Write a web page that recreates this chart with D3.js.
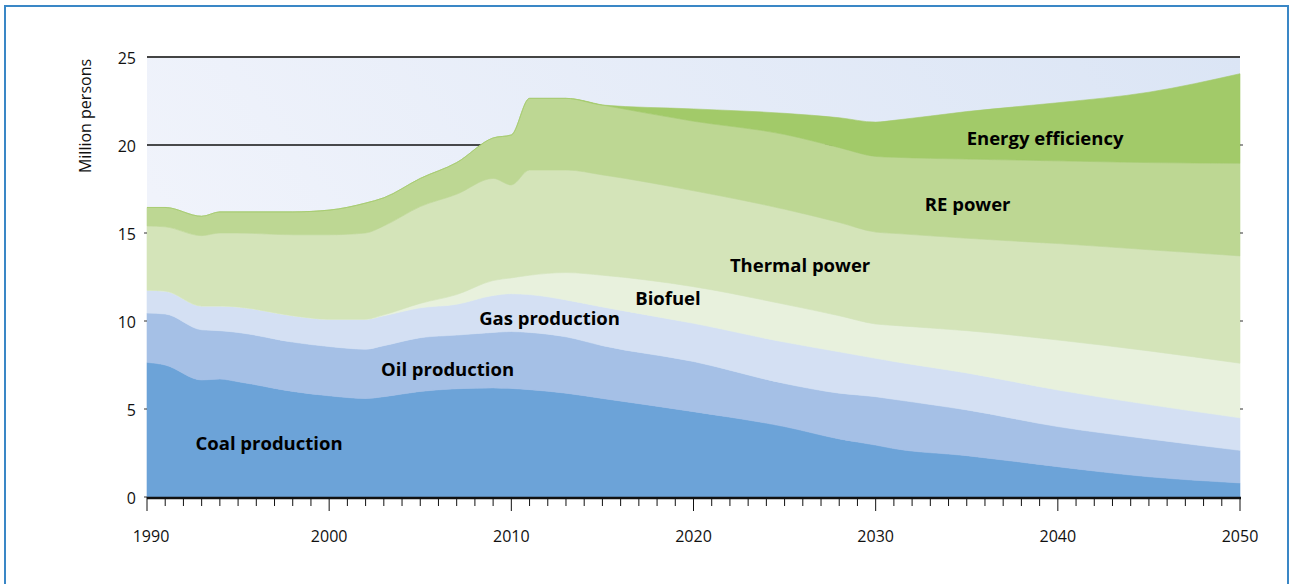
<!DOCTYPE html>
<html>
<head>
<meta charset="utf-8">
<script src="https://cdn.jsdelivr.net/npm/d3@7"></script>
<style>
  html, body { margin: 0; padding: 0; background: #ffffff; }
  svg { display: block; }
  text { font-family: "Open Sans", "Noto Sans", sans-serif; fill: #111; }
</style>
</head>
<body>
<svg id="chart" width="1290" height="584"></svg>
<script>
// Employment in the energy sector, million persons, stacked by source
const years   = [1990, 1991, 1993, 1994, 1995, 1998, 2000, 2002, 2003, 2005, 2007, 2009, 2010, 2011, 2013, 2015, 2020, 2025, 2028, 2030, 2031, 2035, 2040, 2045, 2050];
const coal    = [7.65, 7.5, 6.65, 6.7, 6.55, 6.0, 5.75, 5.6, 5.7, 6.0, 6.15, 6.2, 6.17, 6.1, 5.9, 5.6, 4.85, 4.0, 3.3, 2.95, 2.75, 2.35, 1.72, 1.15, 0.8];
const oil     = [2.8, 2.9, 2.85, 2.75, 2.8, 2.8, 2.8, 2.8, 2.9, 3.05, 3.05, 3.15, 3.23, 3.25, 3.2, 3.0, 2.85, 2.45, 2.6, 2.75, 2.8, 2.6, 2.28, 2.15, 1.85];
const gas     = [1.3, 1.3, 1.35, 1.4, 1.45, 1.5, 1.55, 1.7, 1.7, 1.7, 1.75, 2.1, 2.15, 2.15, 2.1, 2.2, 2.17, 2.35, 2.35, 2.18, 2.15, 2.1, 2.08, 1.95, 1.85];
const biofuel = [0, 0, 0, 0, 0, 0, 0, 0, 0.05, 0.25, 0.55, 0.85, 0.9, 1.1, 1.55, 1.8, 2.08, 2.15, 2.05, 1.95, 2.05, 2.4, 2.84, 3.05, 3.1];
const thermal = [3.65, 3.65, 4.0, 4.15, 4.2, 4.6, 4.8, 4.9, 5.05, 5.5, 5.7, 5.8, 5.28, 5.98, 5.83, 5.7, 5.45, 5.4, 5.3, 5.22, 5.23, 5.25, 5.48, 5.75, 6.1];
const rePower = [1.05, 1.1, 1.1, 1.2, 1.2, 1.3, 1.4, 1.7, 1.6, 1.6, 1.8, 2.3, 2.84, 4.07, 4.07, 3.97, 3.95, 4.25, 4.25, 4.3, 4.32, 4.5, 4.7, 4.95, 5.26];
const effic   = [0, 0, 0, 0, 0, 0, 0, 0, 0, 0, 0, 0, 0, 0, 0, 0, 0.7, 1.2, 1.7, 1.95, 2.1, 2.7, 3.3, 4.0, 5.09];

const seriesNames  = ["Coal production", "Oil production", "Gas production", "Biofuel", "Thermal power", "RE power", "Energy efficiency"];
const seriesValues = [coal, oil, gas, biofuel, thermal, rePower, effic];
const seriesColors = ["#6ca3d8", "#a5c0e6", "#d4e0f3", "#e8f1dd", "#d4e4b9", "#bdd793", "#a2ca69"];

// Label anchor points in data space (year at text centre, value at baseline)
const labelYears  = [1996.7, 2006.5, 2012.1, 2018.6, 2025.85, 2035.05, 2039.3];
const labelValues = [2.67, 6.9, 9.77, 10.9, 12.8, 16.25, 20.0];

const yTicks = [0, 5, 10, 15, 20, 25];
const xMajor = [1990, 2000, 2010, 2020, 2030, 2040, 2050];

const svg = d3.select("#chart");
const m = { left: 147, right: 1240, top: 57, bottom: 497 };

const x = d3.scaleLinear().domain([1990, 2050]).range([m.left, m.right]);
const y = d3.scaleLinear().domain([0, 25]).range([m.bottom, m.top]);

// Outer frame
svg.append("rect")
  .attr("x", 5).attr("y", 6).attr("width", 1283).attr("height", 600)
  .attr("fill", "#ffffff").attr("stroke", "#3a87c6").attr("stroke-width", 2);

// Plot background gradient
const defs = svg.append("defs");
const grad = defs.append("linearGradient").attr("id", "bg")
  .attr("x1", "0").attr("y1", "0.3").attr("x2", "1").attr("y2", "0");
grad.append("stop").attr("offset", "0").attr("stop-color", "#f0f3fb");
grad.append("stop").attr("offset", "1").attr("stop-color", "#dbe5f5");

svg.append("rect")
  .attr("x", m.left).attr("y", m.top)
  .attr("width", m.right - m.left).attr("height", m.bottom - m.top)
  .attr("fill", "url(#bg)");

// Horizontal reference lines at 20 and 25
svg.append("line")
  .attr("x1", m.left).attr("x2", m.right)
  .attr("y1", y(20)).attr("y2", y(20))
  .attr("stroke", "#111").attr("stroke-width", 1.3);
svg.append("line")
  .attr("x1", m.left).attr("x2", m.right)
  .attr("y1", y(25)).attr("y2", y(25))
  .attr("stroke", "#444").attr("stroke-width", 2);

// Stacked areas
const table = years.map((yr, i) => {
  const row = { year: yr };
  seriesNames.forEach((n, k) => { row[n] = seriesValues[k][i]; });
  return row;
});
const stacked = d3.stack().keys(seriesNames)(table);

const area = d3.area()
  .x(d => x(d.data.year))
  .y0(d => y(d[0]))
  .y1(d => y(d[1]))
  .curve(d3.curveMonotoneX);

svg.append("g").selectAll("path")
  .data(stacked)
  .join("path")
  .attr("d", area)
  .attr("fill", (d, i) => seriesColors[i])
  .attr("stroke", (d, i) => seriesColors[i])
  .attr("stroke-width", 0.6);

// Y axis ticks and labels (left)
const yAxis = svg.append("g");
yAxis.selectAll("line")
  .data(yTicks.filter(t => t !== 20 && t !== 25))
  .join("line")
  .attr("x1", m.left - 3).attr("x2", m.left)
  .attr("y1", d => y(d)).attr("y2", d => y(d))
  .attr("stroke", "#333").attr("stroke-width", 1);
yAxis.selectAll("text")
  .data(yTicks)
  .join("text")
  .attr("x", 136)
  .attr("y", d => y(d) + 3)
  .attr("text-anchor", "end")
  .attr("dominant-baseline", "middle")
  .style("font-size", "16px")
  .text(d => d);

// Small ticks on right edge
svg.append("g").selectAll("line")
  .data([5, 10, 15, 20])
  .join("line")
  .attr("x1", m.right).attr("x2", m.right + 3)
  .attr("y1", d => y(d)).attr("y2", d => y(d))
  .attr("stroke", "#333").attr("stroke-width", 1);

// Y axis title
svg.append("text")
  .attr("transform", "translate(91, 116) rotate(-90)")
  .attr("text-anchor", "middle")
  .style("font-size", "16px")
  .text("Million persons");

// X axis: yearly minor ticks, decade major ticks
const xAxis = svg.append("g");
xAxis.selectAll("line.minor")
  .data(d3.range(1990, 2051))
  .join("line")
  .attr("class", "minor")
  .attr("x1", d => x(d)).attr("x2", d => x(d))
  .attr("y1", m.bottom)
  .attr("y2", d => m.bottom + (d % 10 === 0 ? 14 : 9))
  .attr("stroke", "#111").attr("stroke-width", 1);
xAxis.append("line")
  .attr("x1", m.left).attr("x2", m.right + 1)
  .attr("y1", m.bottom + 1).attr("y2", m.bottom + 1)
  .attr("stroke", "#111").attr("stroke-width", 2.5);
xAxis.selectAll("text")
  .data(xMajor)
  .join("text")
  .attr("x", d => x(d) + (d === 1990 ? 4 : 0))
  .attr("y", 542)
  .attr("text-anchor", "middle")
  .style("font-size", "16px")
  .text(d => d);

// Series labels
svg.append("g").selectAll("text")
  .data(seriesNames)
  .join("text")
  .attr("x", (d, i) => x(labelYears[i]))
  .attr("y", (d, i) => y(labelValues[i]))
  .attr("text-anchor", "middle")
  .style("font-size", "18.5px")
  .style("font-weight", "700")
  .style("fill", "#000")
  .text(d => d);
</script>
</body>
</html>
